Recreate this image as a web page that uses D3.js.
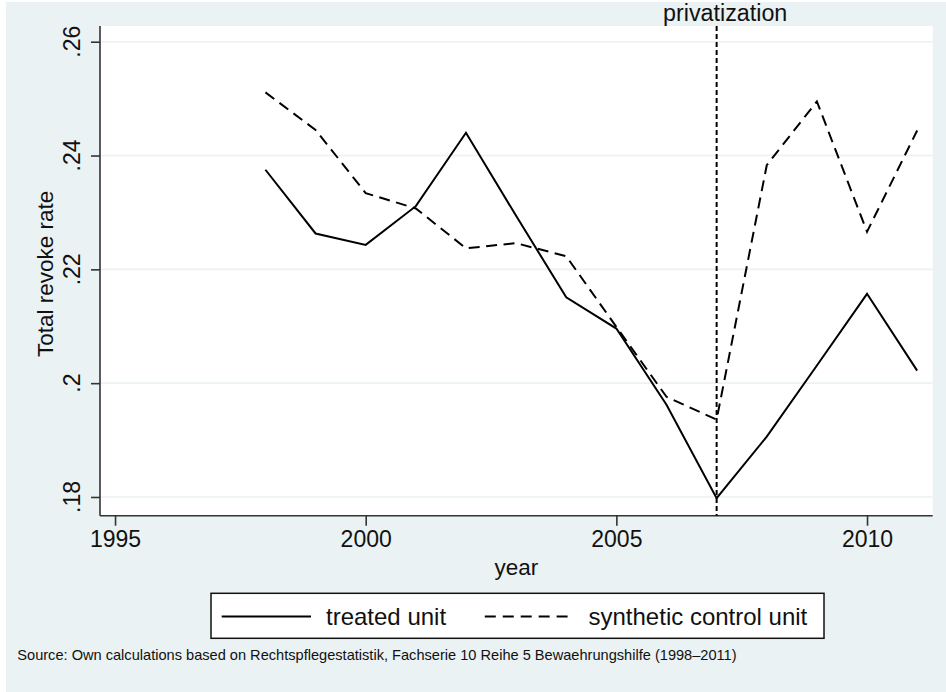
<!DOCTYPE html>
<html>
<head>
<meta charset="utf-8">
<script src="https://cdn.jsdelivr.net/npm/d3@7"></script>
<style>
  html, body { margin: 0; padding: 0; background: #ffffff; }
  svg { display: block; font-family: "Liberation Sans", Arial, Helvetica, sans-serif; }
</style>
</head>
<body>
<svg id="chart" width="946" height="692"></svg>
<script>
// Annual total revoke rates, 1998–2011
const years = [1998, 1999, 2000, 2001, 2002, 2003, 2004, 2005, 2006, 2007, 2008, 2009, 2010, 2011];
const treatedUnit = [0.2375, 0.2263, 0.2243, 0.2311, 0.2440, 0.2294, 0.2151, 0.2096, 0.1962, 0.1798, 0.1906, 0.2031, 0.2157, 0.2022];
const syntheticControl = [0.2511, 0.2445, 0.2334, 0.2307, 0.2237, 0.2246, 0.2223, 0.2099, 0.1976, 0.1936, 0.2383, 0.2495, 0.2266, 0.2444];

const xTicks = [1995, 2000, 2005, 2010];
const yTicks = [0.18, 0.20, 0.22, 0.24, 0.26];
const yTickLabels = [".18", ".2", ".22", ".24", ".26"];
const seriesNames = ["treated unit", "synthetic control unit"];
const interventionYear = 2007;
const interventionLabel = "privatization";
const sourceNote = "Source: Own calculations based on Rechtspflegestatistik, Fachserie 10 Reihe 5 Bewaehrungshilfe (1998\u20132011)";

const svg = d3.select("#chart");
const bg = "#eaf2f3";
const plot = { left: 100, right: 932.7, top: 26, bottom: 515.7 };

// outer graph region
svg.append("rect").attr("x", 6).attr("y", 2).attr("width", 940).attr("height", 690).attr("fill", bg);
// plot region
svg.append("rect").attr("x", plot.left).attr("y", plot.top)
  .attr("width", plot.right - plot.left).attr("height", plot.bottom - plot.top).attr("fill", "#ffffff");

const x = d3.scaleLinear().domain([1994.7, 2011.31]).range([plot.left, plot.right]);
const y = d3.scaleLinear().domain([0.17671, 0.26276]).range([plot.bottom, plot.top]);

// horizontal grid lines
svg.append("g").selectAll("line").data(yTicks).join("line")
  .attr("x1", plot.left).attr("x2", plot.right)
  .attr("y1", d => y(d)).attr("y2", d => y(d))
  .attr("stroke", bg).attr("stroke-width", 1.6);

// y axis
const yAxis = svg.append("g").attr("transform", `translate(${plot.left},0)`)
  .call(d3.axisLeft(y).tickValues(yTicks).tickSize(9).tickFormat(""));
yAxis.select(".domain").attr("d", `M0,${plot.top}V${plot.bottom}`).attr("stroke", "#333").attr("stroke-width", 1.6);
yAxis.selectAll(".tick line").attr("stroke", "#333").attr("stroke-width", 1.6);
svg.append("g").selectAll("text").data(yTicks).join("text")
  .attr("transform", d => `translate(79.5,${y(d)}) rotate(-90)`)
  .attr("text-anchor", "middle")
  .attr("font-size", 23)
  .attr("fill", "#111")
  .text((d, i) => yTickLabels[i]);

// x axis
const xAxis = svg.append("g").attr("transform", `translate(0,${plot.bottom})`)
  .call(d3.axisBottom(x).tickValues(xTicks).tickSize(10).tickFormat(d3.format("d")));
xAxis.select(".domain").attr("d", `M${plot.left},0H${plot.right}`).attr("stroke", "#333").attr("stroke-width", 1.6);
xAxis.selectAll(".tick line").attr("stroke", "#333").attr("stroke-width", 1.6);
xAxis.selectAll(".tick text").attr("font-size", 23).attr("fill", "#111")
  .attr("y", 31.5).attr("dy", null).attr("font-family", "Liberation Sans, Arial, sans-serif");

// axis titles
svg.append("text").attr("x", (plot.left + plot.right) / 2).attr("y", 575)
  .attr("text-anchor", "middle").attr("font-size", 22.5).attr("fill", "#111").text("year");
svg.append("text").attr("transform", `translate(52.5,${(plot.top + plot.bottom) / 2 + 3}) rotate(-90)`)
  .attr("text-anchor", "middle").attr("font-size", 22.5).attr("fill", "#111").text("Total revoke rate");

// intervention line
svg.append("line")
  .attr("x1", x(interventionYear)).attr("x2", x(interventionYear))
  .attr("y1", plot.top).attr("y2", plot.bottom)
  .attr("stroke", "#000").attr("stroke-width", 2).attr("stroke-dasharray", "5,3");
svg.append("text").attr("x", 663).attr("y", 21)
  .attr("font-size", 23.3).attr("fill", "#111").text(interventionLabel);

// series lines
const line = d3.line().x((d, i) => x(years[i])).y(d => y(d));
svg.append("path").datum(treatedUnit).attr("d", line)
  .attr("fill", "none").attr("stroke", "#000").attr("stroke-width", 2).attr("stroke-linejoin", "miter");
svg.append("path").datum(syntheticControl).attr("d", line)
  .attr("fill", "none").attr("stroke", "#000").attr("stroke-width", 2)
  .attr("stroke-dasharray", "11,6.5").attr("stroke-linejoin", "miter");

// legend
const legend = svg.append("g");
legend.append("rect").attr("x", 211).attr("y", 593.3).attr("width", 613).attr("height", 45)
  .attr("fill", "#fff").attr("stroke", "#111").attr("stroke-width", 1.5);
const legendY = 616.5;
legend.append("line").attr("x1", 221.7).attr("x2", 311).attr("y1", legendY).attr("y2", legendY)
  .attr("stroke", "#000").attr("stroke-width", 2);
legend.append("text").attr("x", 326).attr("y", legendY + 8.5).attr("font-size", 24).attr("fill", "#111").text(seriesNames[0]);
legend.append("line").attr("x1", 484.8).attr("x2", 567.6).attr("y1", legendY).attr("y2", legendY)
  .attr("stroke", "#000").attr("stroke-width", 2).attr("stroke-dasharray", "11,6.95");
legend.append("text").attr("x", 588.5).attr("y", legendY + 8.5).attr("font-size", 24).attr("fill", "#111").text(seriesNames[1]);

// source note
svg.append("text").attr("x", 17.3).attr("y", 659.5).attr("font-size", 14.6).attr("fill", "#111").text(sourceNote);
</script>
</body>
</html>
